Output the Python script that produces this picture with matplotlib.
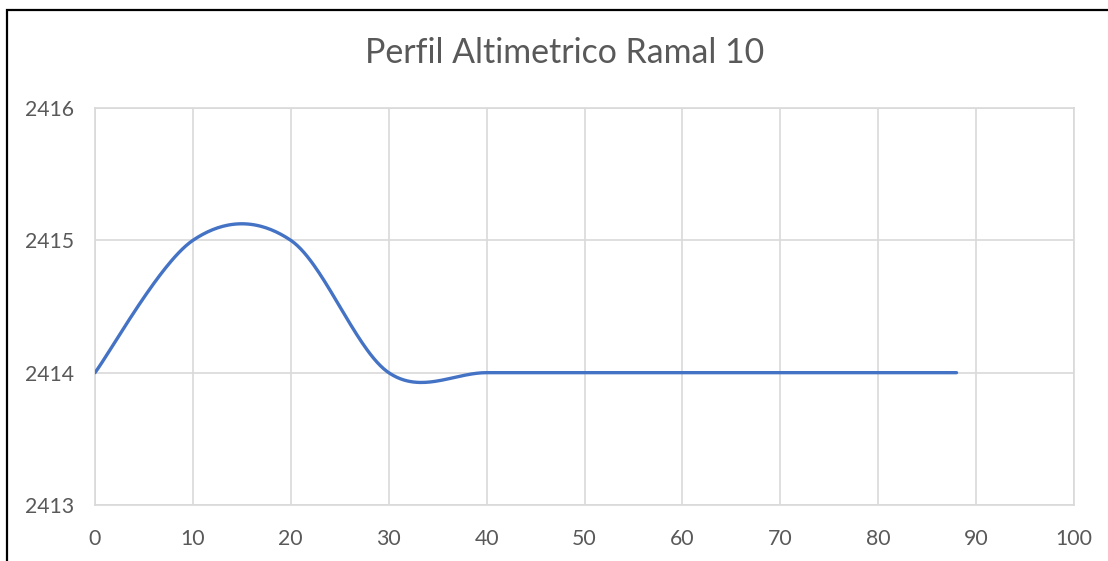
import matplotlib
matplotlib.use("Agg")
import matplotlib.pyplot as plt
import numpy as np
from matplotlib.patches import Rectangle

# Data
distancia = [0, 10, 20, 30, 40, 50, 60, 70, 80, 88]
cota = [2414, 2415, 2415, 2414, 2414, 2414, 2414, 2414, 2414, 2414]

x_ticks = [0, 10, 20, 30, 40, 50, 60, 70, 80, 90, 100]
y_ticks = [2413, 2414, 2415, 2416]
title = "Perfil Altimetrico Ramal 10"

LINE_COLOR = "#4472C4"
GRID_COLOR = "#D9D9D9"
TEXT_COLOR = "#595959"

plt.rcParams.update({
    "font.family": ["Lato", "DejaVu Sans"],
})


def excel_smooth(xs, ys, n=60):
    """Bezier smoothing like Excel's 'smoothed line' (Catmull-Rom, 1/6)."""
    p = np.column_stack([xs, ys]).astype(float)
    out = []
    for i in range(len(p) - 1):
        p0 = p[i - 1] if i > 0 else p[i]
        p1 = p[i]
        p2 = p[i + 1]
        p3 = p[i + 2] if i + 2 < len(p) else p[i + 1]
        c1 = p1 + (p2 - p0) / 6.0
        c2 = p2 - (p3 - p1) / 6.0
        t = np.linspace(0, 1, n)[:, None]
        seg = ((1 - t) ** 3 * p1 + 3 * (1 - t) ** 2 * t * c1
               + 3 * (1 - t) * t ** 2 * c2 + t ** 3 * p2)
        out.append(seg if i == 0 else seg[1:])
    seg = np.vstack(out)
    return seg[:, 0], seg[:, 1]


fig = plt.figure(figsize=(11.08, 5.61), dpi=100)
ax = fig.add_axes([95 / 1108, 1 - 505 / 561, (1074 - 95) / 1108, (505 - 108) / 561])

sx, sy = excel_smooth(distancia, cota)
ax.plot(sx, sy, color=LINE_COLOR, lw=2.4, solid_capstyle="round", zorder=3)

ax.set_xlim(0, 100)
ax.set_ylim(2413, 2416)
ax.set_xticks(x_ticks)
ax.set_yticks(y_ticks)
ax.grid(True, color=GRID_COLOR, lw=1.2)
ax.set_axisbelow(True)
for s in ax.spines.values():
    s.set_color(GRID_COLOR)
    s.set_linewidth(1.2)
ax.tick_params(length=0, labelsize=15.3, colors=TEXT_COLOR)
ax.tick_params(axis="x", pad=17.5)
ax.tick_params(axis="y", pad=15)

fig.text(565 / 1108, 1 - 53 / 561, title, ha="center", va="center",
         fontsize=24.4, color=TEXT_COLOR)

# chart frame (left and top edges visible in the reference)
fig.patches.append(Rectangle((7 / 1108, -0.1), 1.2, 1 - 10 / 561 + 0.1,
                             transform=fig.transFigure, fill=False,
                             edgecolor="black", lw=1.6))

fig.savefig("out.png", dpi=100)
